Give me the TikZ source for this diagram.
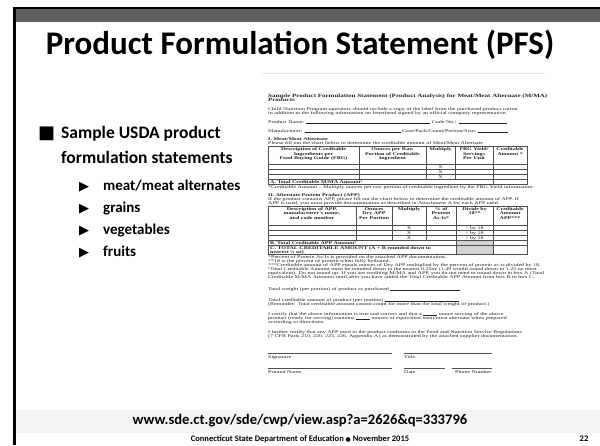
\documentclass[tikz,border=0pt]{standalone}
\usepackage{fontspec}
\usepackage{graphicx}
\usepackage{xcolor}
\setmainfont{Carlito}
\newfontfamily\docrm{Liberation Serif}
\newfontfamily\glyphs{DejaVu Sans}
\definecolor{hbar}{RGB}{96,96,96}
\definecolor{hband}{RGB}{244,244,244}
\definecolor{hink}{RGB}{35,35,35}
\definecolor{hcell}{RGB}{210,210,210}
\definecolor{hedge}{RGB}{232,232,232}
\newcommand\dfont{\docrm\fontsize{6}{6.5}\selectfont}
\newcommand\sq[1]{\scalebox{1}[0.7]{#1}}
\newcommand\hd[1]{\scalebox{1}[0.7]{\begin{tabular}{@{}c@{}}#1\end{tabular}}}
\newcommand\blank[1]{\rule[-0.3pt]{#1}{0.4pt}}
\tikzset{
  every node/.style={inner sep=0pt},
  ttl/.style={font=\bfseries\fontsize{33}{36}\selectfont, anchor=base},
  lvl1/.style={font=\bfseries\fontsize{17.5}{21}\selectfont, anchor=base west},
  lvl2/.style={font=\bfseries\fontsize{15}{18}\selectfont, anchor=base west},
  sqb/.style={font=\glyphs\fontsize{18}{18}\selectfont, anchor=base west},
  trib/.style={font=\glyphs\fontsize{13}{13}\selectfont, anchor=base west},
  link/.style={font=\bfseries\fontsize{14.6}{16}\selectfont, anchor=base},
  foot/.style={font=\bfseries\fontsize{8.5}{10}\selectfont, anchor=base},
  dtxt/.style={font=\dfont, text=hink, anchor=base west},
  dbf/.style={font=\dfont\bfseries, text=hink, anchor=base west},
  dttl/.style={font=\docrm\bfseries\fontsize{7}{7.5}\selectfont, text=hink, anchor=base west},
  dhd/.style={font=\dfont\bfseries, text=hink, anchor=north},
  dcell/.style={font=\dfont, text=hink, anchor=base},
  tbl/.style={draw=hink!80, line width=0.35pt},
}

\begin{document}
\begin{tikzpicture}[x=1pt,y=-1pt]
\useasboundingbox (0,0) rectangle (600,445);
\fill[white] (0,0) rectangle (600,445);
% frame, title bar, link band
\fill[black] (13,6.5) rectangle (600,9);
\fill[black] (13,6.5) rectangle (15.5,445);
\fill[hbar] (15.5,9) rectangle (600,22);
\fill[hband] (15.5,410) rectangle (600,433);

\node[ttl] (t1) at (300,54) {Product Formulation Statement (PFS)};

\node[sqb] (b0) at (38,138) {■};
\node[lvl1] (b1) at (61,138) {Sample USDA product};
\node[lvl1] (b2) at (61,163) {formulation statements};
\node[trib] (s0a) at (79,190) {▶};
\node[lvl2] (s1) at (103,190) {meat/meat alternates};
\node[trib] (s0b) at (79,212) {▶};
\node[lvl2] (s2) at (103,212) {grains};
\node[trib] (s0c) at (79,234) {▶};
\node[lvl2] (s3) at (103,234) {vegetables};
\node[trib] (s0d) at (79,256) {▶};
\node[lvl2] (s4) at (103,256) {fruits};

% sample form
\draw[hedge, line width=0.8pt] (262,73) -- (545,73);
\node[dttl] (d1) at (268,97) {\sq{Sample Product Formulation Statement (Product Analysis) for Meat/Meat Alternate (M/MA)}};
\node[dttl] (d2) at (268,101.5) {\sq{Products}};
\node[dtxt] (d3) at (268,110) {\sq{Child Nutrition Program operators should include a copy of the label from the purchased product carton}};
\node[dtxt] (d4) at (268,114) {\sq{in addition to the following information on letterhead signed by an official company representative.}};
\node[dtxt] (d5) at (268,123) {\sq{Product Name: \blank{124pt} Code No.: \blank{48pt}}};
\node[dtxt] (d6) at (268,132) {\sq{Manufacturer: \blank{96pt} Case/Pack/Count/Portion/Size: \blank{30pt}}};
\node[dbf] (d7) at (268,140) {\sq{I. Meat/Meat Alternate}};
\node[dtxt] (d8) at (268,144) {\sq{Please fill out the chart below to determine the creditable amount of Meat/Meat Alternate}};

\draw[tbl] (268,146.5) rectangle (527,184);
\foreach \y in {164,169,174,179} \draw[tbl] (268,\y) -- (527,\y);
\foreach \x in {359,426,455} \draw[tbl] (\x,146.5) -- (\x,179);
\draw[tbl] (493,146.5) -- (493,184);
\node[dhd] (h1) at (313.5,147.5) {\hd{Description of Creditable\\Ingredients per\\Food Buying Guide (FBG)}};
\node[dhd] (h2) at (392.5,147.5) {\hd{Ounces per Raw\\Portion of Creditable\\Ingredient}};
\node[dhd] (h3) at (440.5,147.5) {\hd{Multiply}};
\node[dhd] (h4) at (474,147.5) {\hd{FBG Yield/\\Servings\\Per Unit}};
\node[dhd] (h5) at (510,147.5) {\hd{Creditable\\Amount *}};
\foreach \y [count=\i] in {168,173,178} \node[dcell] (x\i) at (440.5,\y) {\sq{X}};
\node[dbf] (a1) at (270,183) {\sq{A. Total Creditable M/MA Amount¹}};

\node[dtxt] (d9) at (268,188) {\sq{*Creditable Amount – Multiply ounces per raw portion of creditable ingredient by the FBG Yield information.}};
\node[dbf] (d10) at (268,196) {\sq{II. Alternate Protein Product (APP)}};
\node[dtxt] (d11) at (268,200) {\sq{If the product contains APP, please fill out the chart below to determine the creditable amount of APP. If}};
\node[dtxt] (d12) at (268,204) {\sq{APP is used, you must provide documentation as described in Attachment A for each APP used.}};

\fill[hcell] (456,240) rectangle (493,254);
\draw[tbl] (268,206) rectangle (527,254);
\foreach \y in {225,230,235,240} \draw[tbl] (268,\y) -- (527,\y);
\draw[tbl] (268,245) -- (527,245);
\foreach \x in {356,392,426} \draw[tbl] (\x,206) -- (\x,240);
\foreach \x in {456,493} \draw[tbl] (\x,206) -- (\x,254);
\node[dhd] (g1) at (312,207) {\hd{Description of APP,\\manufacturer's name,\\and code number}};
\node[dhd] (g2) at (374,207) {\hd{Ounces\\Dry APP\\Per Portion}};
\node[dhd] (g3) at (409,207) {\hd{Multiply}};
\node[dhd] (g4) at (441,207) {\hd{\% of\\Protein\\As-Is*}};
\node[dhd] (g5) at (474.5,207) {\hd{Divide by\\18**}};
\node[dhd] (g6) at (510,207) {\hd{Creditable\\Amount\\APP***}};
\foreach \y [count=\i] in {229,234,239} {
  \node[dcell] (y\i) at (409,\y) {\sq{X}};
  \node[dcell] (z\i) at (474.5,\y) {\sq{÷ by 18}};
}
\node[dbf] (b2a) at (270,244) {\sq{B. Total Creditable APP Amount¹}};
\node[dbf] (c1) at (270,249) {\sq{C. TOTAL CREDITABLE AMOUNT (A + B rounded down to}};
\node[dbf] (c2) at (270,253) {\sq{nearest ¼ oz)}};

\node[dtxt] (n1) at (268,258) {\sq{*Percent of Protein As-Is is provided on the attached APP documentation.}};
\node[dtxt] (n2) at (268,262) {\sq{**18 is the percent of protein when fully hydrated.}};
\node[dtxt] (n3) at (268,266) {\sq{***Creditable amount of APP equals ounces of Dry APP multiplied by the percent of protein as-is divided by 18.}};
\node[dtxt] (n4) at (268,270) {\sq{¹Total Creditable Amount must be rounded down to the nearest 0.25oz (1.49 would round down to 1.25 oz meat}};
\node[dtxt] (n5) at (268,274) {\sq{equivalent). Do not round up. If you are crediting M/MA and APP, you do not need to round down in box A (Total}};
\node[dtxt] (n6) at (268,278) {\sq{Creditable M/MA Amount) until after you have added the Total Creditable APP Amount from box B to box C.}};

\node[dtxt] (e1) at (268,290) {\sq{Total weight (per portion) of product as purchased \blank{70pt}}};
\node[dtxt] (e2) at (268,301) {\sq{Total creditable amount of product (per portion) \blank{74pt}}};
\node[dtxt] (e3) at (268,305) {\sq{(Reminder: Total creditable amount cannot count for more than the total weight of product.)}};
\node[dtxt] (e4) at (268,315) {\sq{I certify that the above information is true and correct and that a \blank{14pt} ounce serving of the above}};
\node[dtxt] (e5) at (268,319) {\sq{product (ready for serving) contains \blank{14pt} ounces of equivalent meat/meat alternate when prepared}};
\node[dtxt] (e6) at (268,323) {\sq{according to directions.}};
\node[dtxt] (e7) at (268,333) {\sq{I further certify that any APP used in the product conforms to the Food and Nutrition Service Regulations}};
\node[dtxt] (e8) at (268,337) {\sq{(7 CFR Parts 210, 220, 225, 226, Appendix A) as demonstrated by the attached supplier documentation.}};

\draw[tbl] (268,353) -- (392,353);
\draw[tbl] (404,353) -- (492,353);
\node[dtxt] (l1) at (268,358) {\sq{Signature}};
\node[dtxt] (l2) at (404,358) {\sq{Title}};
\draw[tbl] (268,368) -- (392,368);
\draw[tbl] (404,368) -- (445,368);
\draw[tbl] (452,368) -- (492,368);
\node[dtxt] (l3) at (268,373) {\sq{Printed Name}};
\node[dtxt] (l4) at (404,373) {\sq{Date}};
\node[dtxt] (l5) at (455,373) {\sq{Phone Number}};

\node[link] (u1) at (300,424) {www.sde.ct.gov/sde/cwp/view.asp?a=2626\&q=333796};
\node[foot] (f1) at (300,441) {Connecticut State Department of Education {\glyphs\fontsize{6}{6}\selectfont ●} November 2015};
\node[foot] (f2) at (584,441) {22};
\end{tikzpicture}
\end{document}
